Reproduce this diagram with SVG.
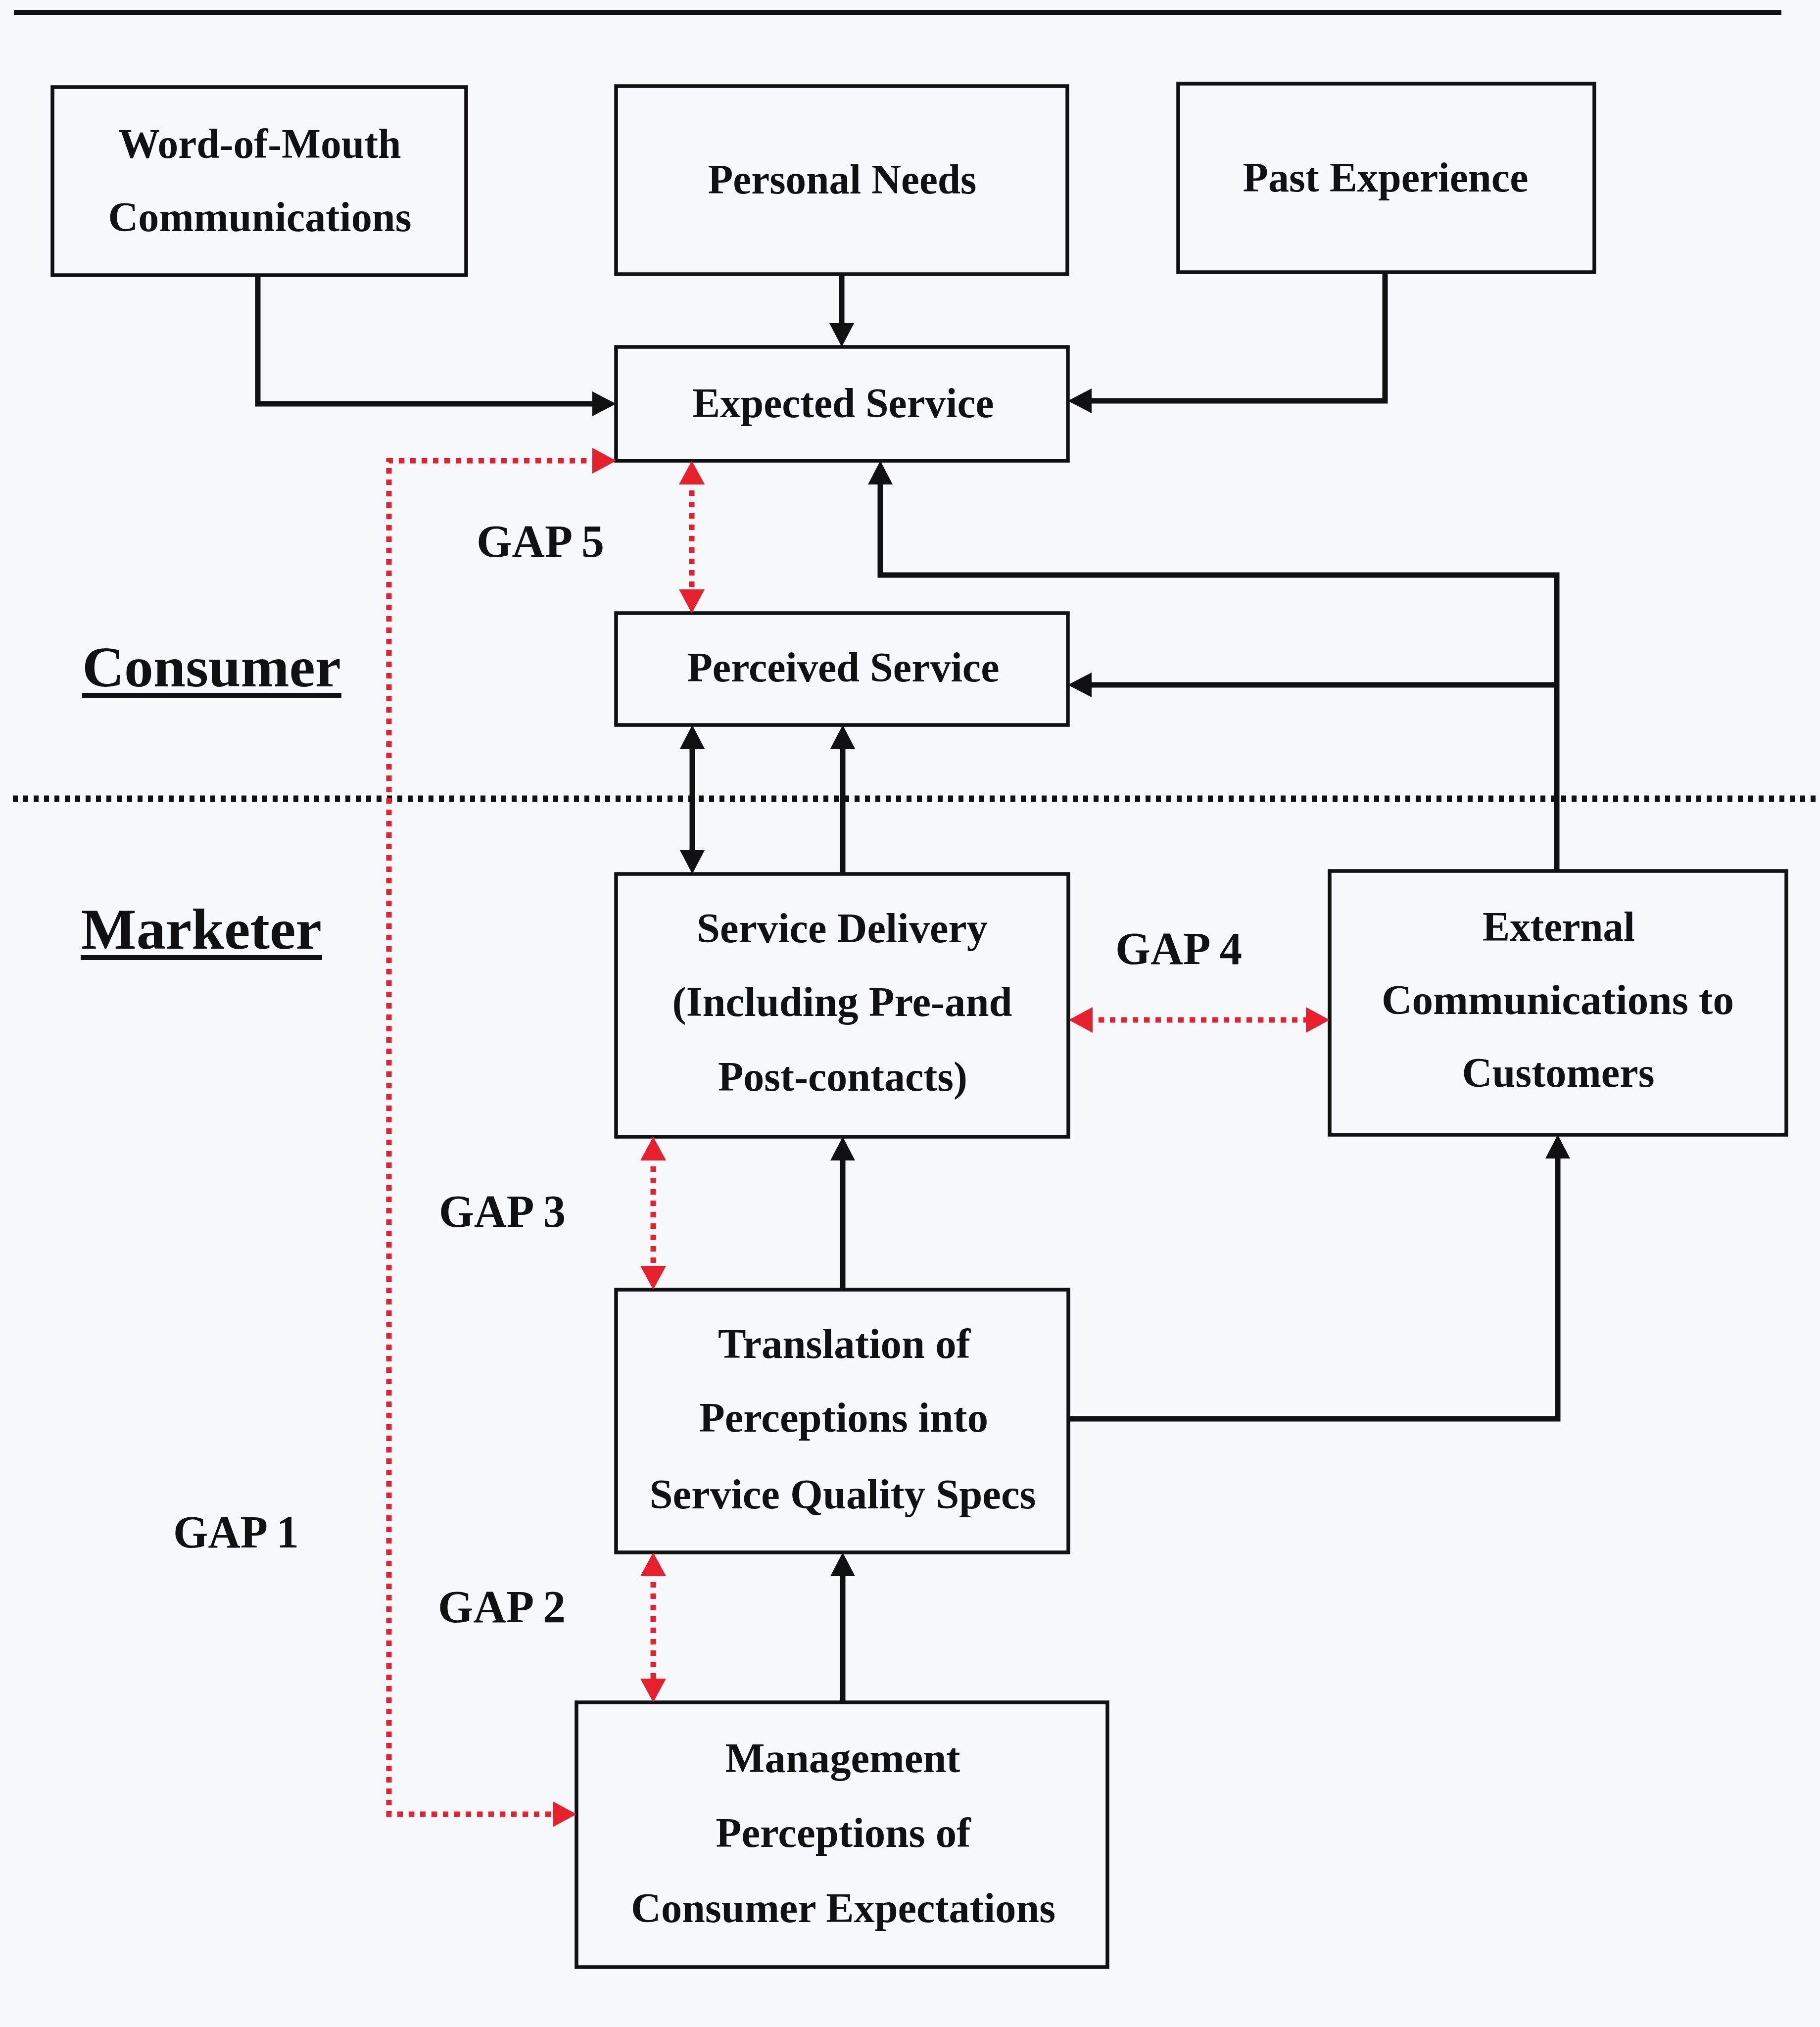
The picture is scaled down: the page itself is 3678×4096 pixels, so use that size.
<svg xmlns="http://www.w3.org/2000/svg" width="3678" height="4096" viewBox="0 0 3678 4096">
  <style>
    .bg { fill: #f7f8fc; }
    .box { fill: none; stroke: #111; stroke-width: 7.5; }
    .lbl { font-family: "Liberation Serif", "Times New Roman", serif; font-weight: bold; font-size: 84px; fill: #111; text-anchor: middle; }
    .gap { font-family: "Liberation Serif", "Times New Roman", serif; font-weight: bold; font-size: 94px; fill: #111; text-anchor: middle; }
    .side { font-family: "Liberation Serif", "Times New Roman", serif; font-weight: bold; font-size: 117px; fill: #111; }
    .flow { fill: none; stroke: #111; stroke-width: 11; }
    .gapline { fill: none; stroke: #e81f2d; stroke-width: 11; stroke-dasharray: 11 12; }
    .rule { fill: none; stroke: #111; stroke-width: 10; }
    .divider { fill: none; stroke: #111; stroke-width: 13; stroke-dasharray: 10 11; }
  </style>
  <defs>
    <marker id="ah" viewBox="0 0 48 50" refX="34" refY="25" markerWidth="48" markerHeight="50" markerUnits="userSpaceOnUse" orient="auto-start-reverse">
      <path d="M0,0 L48,25 L0,50 Z" fill="#111"/>
    </marker>
    <marker id="ahr" viewBox="0 0 48 52" refX="34" refY="26" markerWidth="48" markerHeight="52" markerUnits="userSpaceOnUse" orient="auto-start-reverse">
      <path d="M0,0 L48,26 L0,52 Z" fill="#e81f2d"/>
    </marker>
  </defs>

  <rect class="bg" x="0" y="0" width="3678" height="4096"/>

  <!-- page rule above the figure -->
  <path class="rule" d="M28 25 H3600"/>

  <!-- consumer / marketer boundary -->
  <path class="divider" d="M26 1614 H3678"/>

  <!-- side headings -->
  <g id="consumer-heading">
    <text class="side" x="166" y="1387" textLength="523" lengthAdjust="spacingAndGlyphs">Consumer</text>
    <rect x="166" y="1400" width="524" height="11" fill="#111"/>
  </g>
  <g id="marketer-heading">
    <text class="side" x="164" y="1917" textLength="486" lengthAdjust="spacingAndGlyphs">Marketer</text>
    <rect x="163" y="1930" width="488" height="10" fill="#111"/>
  </g>

  <!-- nodes -->
  <g id="word-of-mouth">
    <rect class="box" x="106" y="176" width="836" height="380"/>
    <text class="lbl" x="525" y="319" textLength="571" lengthAdjust="spacingAndGlyphs">Word-of-Mouth</text>
    <text class="lbl" x="525" y="467" textLength="613" lengthAdjust="spacingAndGlyphs">Communications</text>
  </g>
  <g id="personal-needs">
    <rect class="box" x="1245" y="174" width="912" height="380"/>
    <text class="lbl" x="1702" y="391" textLength="543" lengthAdjust="spacingAndGlyphs">Personal Needs</text>
  </g>
  <g id="past-experience">
    <rect class="box" x="2381" y="169" width="841" height="381"/>
    <text class="lbl" x="2800" y="387" textLength="577" lengthAdjust="spacingAndGlyphs">Past Experience</text>
  </g>
  <g id="expected-service">
    <rect class="box" x="1245" y="701" width="913" height="230"/>
    <text class="lbl" x="1704" y="843" textLength="609" lengthAdjust="spacingAndGlyphs">Expected Service</text>
  </g>
  <g id="perceived-service">
    <rect class="box" x="1245" y="1239" width="913" height="226"/>
    <text class="lbl" x="1704" y="1377" textLength="631" lengthAdjust="spacingAndGlyphs">Perceived Service</text>
  </g>
  <g id="service-delivery">
    <rect class="box" x="1245" y="1766" width="914" height="531"/>
    <text class="lbl" x="1702" y="1904" textLength="588" lengthAdjust="spacingAndGlyphs">Service Delivery</text>
    <text class="lbl" x="1702" y="2053" textLength="687" lengthAdjust="spacingAndGlyphs">(Including Pre-and</text>
    <text class="lbl" x="1703" y="2204" textLength="504" lengthAdjust="spacingAndGlyphs">Post-contacts)</text>
  </g>
  <g id="external-communications">
    <rect class="box" x="2687" y="1760" width="923" height="533"/>
    <text class="lbl" x="3150" y="1901" textLength="308" lengthAdjust="spacingAndGlyphs">External</text>
    <text class="lbl" x="3148" y="2049" textLength="712" lengthAdjust="spacingAndGlyphs">Communications to</text>
    <text class="lbl" x="3149" y="2196" textLength="389" lengthAdjust="spacingAndGlyphs">Customers</text>
  </g>
  <g id="translation">
    <rect class="box" x="1245" y="2606" width="914" height="531"/>
    <text class="lbl" x="1706" y="2744" textLength="510" lengthAdjust="spacingAndGlyphs">Translation of</text>
    <text class="lbl" x="1705" y="2893" textLength="584" lengthAdjust="spacingAndGlyphs">Perceptions into</text>
    <text class="lbl" x="1703" y="3048" textLength="781" lengthAdjust="spacingAndGlyphs">Service Quality Specs</text>
  </g>
  <g id="management-perceptions">
    <rect class="box" x="1165" y="3440" width="1073" height="535"/>
    <text class="lbl" x="1703" y="3581" textLength="475" lengthAdjust="spacingAndGlyphs">Management</text>
    <text class="lbl" x="1704" y="3732" textLength="515" lengthAdjust="spacingAndGlyphs">Perceptions of</text>
    <text class="lbl" x="1704" y="3884" textLength="858" lengthAdjust="spacingAndGlyphs">Consumer Expectations</text>
  </g>

  <!-- gap labels -->
  <g id="gap-labels">
    <text class="gap" x="1092" y="1125" textLength="258" lengthAdjust="spacingAndGlyphs">GAP 5</text>
    <text class="gap" x="2382" y="1948" textLength="256" lengthAdjust="spacingAndGlyphs">GAP 4</text>
    <text class="gap" x="1015" y="2479" textLength="256" lengthAdjust="spacingAndGlyphs">GAP 3</text>
    <text class="gap" x="1014" y="3278" textLength="258" lengthAdjust="spacingAndGlyphs">GAP 2</text>
    <text class="gap" x="477" y="3127" textLength="254" lengthAdjust="spacingAndGlyphs">GAP 1</text>
  </g>

  <!-- connectors -->
  <g id="connectors">
    <path class="flow" d="M521 556 V816 H1231" marker-end="url(#ah)"/>
    <path class="flow" d="M1701 554 V687" marker-end="url(#ah)"/>
    <path class="flow" d="M2799 550 V810 H2172" marker-end="url(#ah)"/>
    <path class="flow" d="M3146 1760 V1162 H1779 V945" marker-end="url(#ah)"/>
    <path class="flow" d="M3146 1384 H2172" marker-end="url(#ah)"/>
    <path class="flow" d="M1399 1479 V1752" marker-start="url(#ah)" marker-end="url(#ah)"/>
    <path class="flow" d="M1703 1766 V1479" marker-end="url(#ah)"/>
    <path class="flow" d="M1703 2606 V2311" marker-end="url(#ah)"/>
    <path class="flow" d="M2159 2867 H3148 V2307" marker-end="url(#ah)"/>
    <path class="flow" d="M1703 3440 V3151" marker-end="url(#ah)"/>

    <!-- gap indicators -->
    <path class="gapline" d="M1231 931 H786 V3666 H1151" marker-start="url(#ahr)" marker-end="url(#ahr)"/>
    <path class="gapline" d="M1398 945 V1225" marker-start="url(#ahr)" marker-end="url(#ahr)"/>
    <path class="gapline" d="M2174 2061 H2673" marker-start="url(#ahr)" marker-end="url(#ahr)"/>
    <path class="gapline" d="M1320 2311 V2592" marker-start="url(#ahr)" marker-end="url(#ahr)"/>
    <path class="gapline" d="M1320 3151 V3426" marker-start="url(#ahr)" marker-end="url(#ahr)"/>
  </g>
</svg>
